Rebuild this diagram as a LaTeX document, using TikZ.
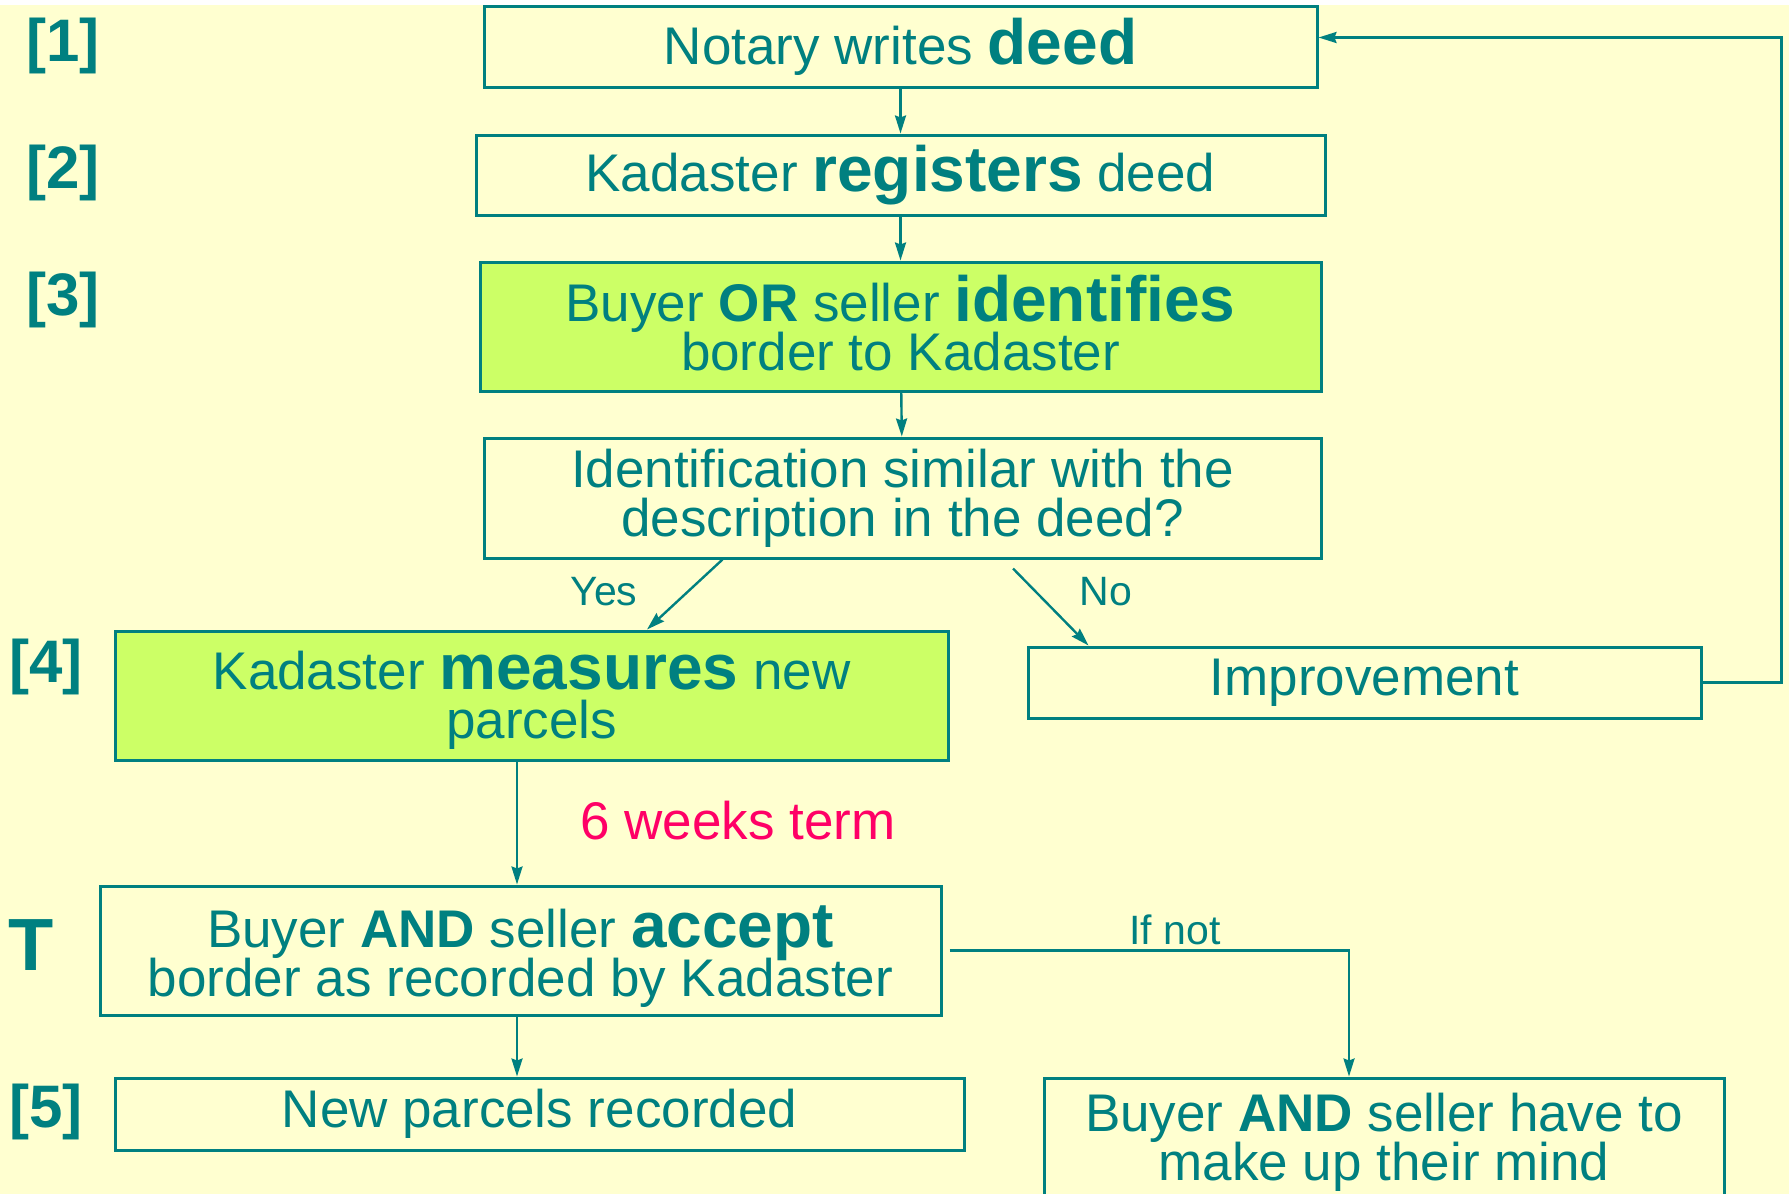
\documentclass[tikz,border=0pt]{standalone}
\usepackage{fontspec}
\setmainfont{Liberation Sans}
\usetikzlibrary{arrows.meta,calc}

\definecolor{kteal}{RGB}{0,128,128}
\definecolor{kyellow}{RGB}{255,255,208}
\definecolor{kgreen}{RGB}{204,255,102}
\definecolor{kred}{RGB}{255,0,102}

\setlength{\lineskiplimit}{-20pt}
\newcommand{\kword}[1]{{\fontsize{32}{24.5}\selectfont\bfseries #1}}

\begin{document}
\begin{tikzpicture}[x=0.5pt,y=-0.5pt,
    stage/.style={draw=kteal,line width=1.5pt,fill=kyellow,text=kteal,align=center,
        inner sep=0pt,font=\fontsize{26.5}{24.5}\selectfont},
    action/.style={stage,fill=kgreen},
    tag/.style={text=kteal,inner sep=0pt,font=\fontsize{30}{30}\selectfont\bfseries},
    answer/.style={text=kteal,inner sep=0pt,font=\fontsize{20.5}{20.5}\selectfont},
    flow/.style={draw=kteal,line width=1.2pt,-{Stealth[length=9pt,width=5.5pt,inset=1pt]}}]
        \clip (0,0) rectangle (1789,1194);
        \useasboundingbox (0,0) rectangle (1789,1194);
        \fill[kyellow] (0,0) rectangle (1789,1194);
        \fill[white] (0,0) rectangle (1789,5);

        % steps
        \node[stage,minimum width=416.5pt,minimum height=40.5pt] (deed) at (900.5,46.5) {Notary writes \kword{deed}};
        \node[stage,minimum width=424.5pt,minimum height=40pt] (reg) at (900.5,175) {Kadaster \kword{registers} deed};
        \node[action,minimum width=420.5pt,minimum height=64.5pt] (ident) at (900.5,326.5) {Buyer \textbf{OR} seller \kword{identifies}\\border to Kadaster\rule[-4pt]{0pt}{4pt}};
        \node[stage,minimum width=418.5pt,minimum height=60pt] (quest) at (902.5,498) {Identification similar with the\\description in the deed?};
        \node[action,minimum width=416.5pt,minimum height=64.5pt] (meas) at (531.5,695.5) {\rule{0pt}{24pt}Kadaster \kword{measures} new\\parcels};
        \node[stage,minimum width=336.5pt,minimum height=35.5pt] (impr) at (1364.5,682.5) {Improvement};
        \node[stage,minimum width=420.5pt,minimum height=64.5pt] (acc) at (520.5,950.5) {\rule{0pt}{27pt}Buyer \textbf{AND} seller \kword{accept}\\border as recorded by Kadaster};
        \node[stage,minimum width=424.5pt,minimum height=36pt] (newp) at (539.5,1114) {New parcels recorded};
        \node[stage,minimum width=340pt,minimum height=64.5pt] (mind) at (1384,1142.5) {Buyer \textbf{AND} seller have to\\make up their mind};

        % step numbers
        \node[tag] (n1) at (63,46) {[1]};
        \node[tag] (n2) at (63,173) {[2]};
        \node[tag] (n3) at (63,300) {[3]};
        \node[tag] (n4) at (46,667) {[4]};
        \node[tag,font=\fontsize{37}{37}\selectfont\bfseries] (nT) at (31,945) {T};
        \node[tag] (n5) at (46,1112) {[5]};

        % labels on the connectors
        \node[answer] (yes) at (604,592) {Yes};
        \node[answer] (no) at (1106,592) {No};
        \node[answer] (ifnot) at (1175,930) {If not};
        \node[answer,text=kred,font=\fontsize{26.5}{26.5}\selectfont] (term) at (738,821) {6 weeks term};

        % connectors
        \draw[flow] (deed) -- (reg);
        \draw[flow] (reg) -- (ident);
        \draw[flow] (ident) -- (quest);
        \draw[flow] ($(quest.south)+(-180,0)$) -- ($(meas.north)+(115.5,0)$);
        \draw[flow] ($(quest.south)+(110.5,9)$) -- ($(impr.north west)+(62,0)$);
        \draw[flow] (impr.east) -- ++(79,0) |- ($(deed.east)+(0,-9)$);
        \coordinate (down) at ($(acc.north)+(-3.5,0)$);
        \draw[flow] (meas.south -| down) -- (down);
        \draw[flow] ($(acc.east)+(7,0)$) -| ($(mind.north)+(-35,0)$);
        \draw[flow] (acc.south -| down) -- (newp.north -| down);
\end{tikzpicture}
\end{document}
